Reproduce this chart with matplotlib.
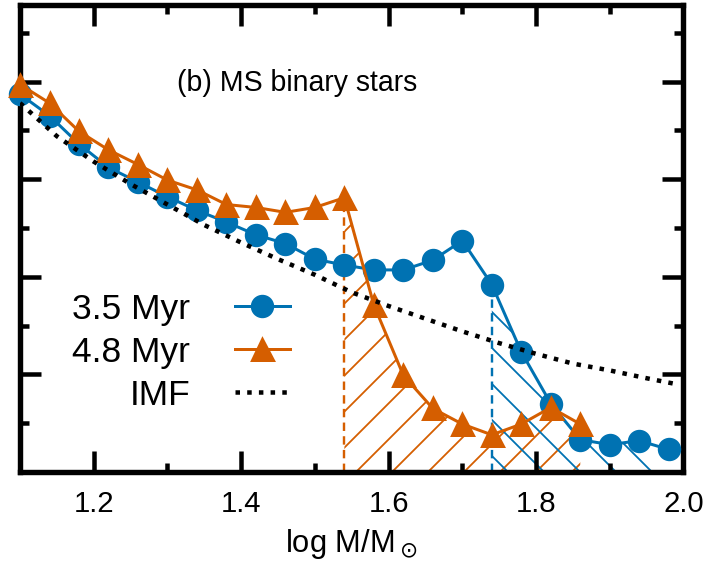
import matplotlib
matplotlib.use("Agg")
import matplotlib.pyplot as plt
import numpy as np

plt.rcParams['font.family'] = ['Liberation Sans', 'DejaVu Sans']
plt.rcParams['hatch.linewidth'] = 0.6

# ---- data ----
x_blue = [1.10, 1.14, 1.18, 1.22, 1.26, 1.30, 1.34, 1.38, 1.42, 1.46, 1.50, 1.54,
          1.58, 1.62, 1.66, 1.70, 1.74, 1.78, 1.82, 1.86, 1.90, 1.94, 1.98]
y_blue = [3.87, 3.65, 3.36, 3.12, 2.97, 2.82, 2.68, 2.56, 2.43, 2.34, 2.18, 2.12,
          2.07, 2.07, 2.17, 2.37, 1.92, 1.23, 0.70, 0.33, 0.28, 0.32, 0.23]

x_orange = [1.10, 1.14, 1.18, 1.22, 1.26, 1.30, 1.34, 1.38, 1.42, 1.46, 1.50, 1.54,
            1.58, 1.62, 1.66, 1.70, 1.74, 1.78, 1.82, 1.86]
y_orange = [3.97, 3.78, 3.49, 3.30, 3.15, 2.99, 2.89, 2.74, 2.71, 2.66, 2.71, 2.81,
            1.71, 0.99, 0.65, 0.49, 0.38, 0.49, 0.66, 0.49]

x_imf = [1.10, 1.15, 1.20, 1.25, 1.30, 1.35, 1.40, 1.45, 1.50, 1.55, 1.60, 1.65,
         1.70, 1.75, 1.80, 1.85, 1.90, 1.95, 1.99]
y_imf = [3.78, 3.44, 3.18, 2.95, 2.74, 2.53, 2.35, 2.18, 2.02, 1.84, 1.70, 1.57,
         1.44, 1.32, 1.21, 1.11, 1.04, 0.96, 0.90]

orange_cut = 1.54   # start of orange hatched region
blue_cut = 1.74     # start of blue hatched region

labels = ["3.5 Myr", "4.8 Myr", "IMF"]
xticks = [1.2, 1.4, 1.6, 1.8, 2.0]
xtick_labels = ["1.2", "1.4", "1.6", "1.8", "2.0"]
xminor = [1.3, 1.5, 1.7, 1.9]
ymajor = [0, 1, 2, 3, 4]
yminor = [0.5, 1.5, 2.5, 3.5, 4.5]

c_blue = '#0072B2'
c_orange = '#D55E00'

DPI = 216
fig = plt.figure(figsize=(707.5 / DPI, 564.5 / DPI), dpi=DPI)
ax = fig.add_axes([20 / 707, 1 - 472 / 564, 663 / 707, 467 / 564])

xb = np.array(x_blue); yb = np.array(y_blue)
xo = np.array(x_orange); yo = np.array(y_orange)

# hatched regions
mo = xo >= orange_cut - 1e-9
ax.fill_between(xo[mo], 0, yo[mo], facecolor='none', edgecolor=c_orange,
                hatch='//', linewidth=0, zorder=1)
mb = xb >= blue_cut - 1e-9
ax.fill_between(xb[mb], 0, yb[mb], facecolor='none', edgecolor=c_blue,
                hatch='\\\\', linewidth=0, zorder=1.1)

# dashed vertical boundaries
io = int(np.argmin(np.abs(xo - orange_cut)))
ib = int(np.argmin(np.abs(xb - blue_cut)))
ax.vlines(xo[io], 0, yo[io], colors=c_orange, linestyles=(0, (3.5, 2.2)),
          linewidth=0.8, zorder=2)
ax.vlines(xb[ib], 0, yb[ib], colors=c_blue, linestyles=(0, (3.5, 2.2)),
          linewidth=0.8, zorder=2)

l1, = ax.plot(xb, yb, '-o', color=c_blue, lw=1.0, ms=6.8, zorder=3, clip_on=False)
l2, = ax.plot(xo, yo, '-^', color=c_orange, lw=1.0, ms=7.0, zorder=4, clip_on=False)
l3, = ax.plot(x_imf, y_imf, color='black', lw=1.5, linestyle=(0, (1, 1.6)), zorder=5)

ax.set_xlim(1.1, 2.0)
ax.set_ylim(0, 467 / 97.5)

ax.set_xticks(xticks)
ax.set_xticklabels(xtick_labels)
ax.set_xticks(xminor, minor=True)
ax.set_yticks(ymajor)
ax.set_yticks(yminor, minor=True)
ax.tick_params(axis='both', which='both', direction='in', top=True, right=True,
               width=1.5, labelsize=9.8, pad=6)
ax.tick_params(which='major', length=7)
ax.tick_params(which='minor', length=3)
ax.tick_params(axis='y', labelleft=False)
for s in ax.spines.values():
    s.set_linewidth(1.8)

ax.set_xlabel(r'log M/M$_\odot$', fontsize=10.3, labelpad=3)

ax.text((297 - 20) / 663, (472 - 83) / 467, '(b) MS binary stars',
        transform=ax.transAxes, ha='center', va='center', fontsize=9.5)

ax.legend([l1, l2, l3], labels, markerfirst=False, frameon=False,
          loc='center left', bbox_to_anchor=((72 - 20) / 663, (472 - 352) / 467),
          borderaxespad=0, borderpad=0, fontsize=11.8, handlelength=1.55,
          handletextpad=1.27, labelspacing=0.28)

fig.savefig('out.png', dpi=DPI)
